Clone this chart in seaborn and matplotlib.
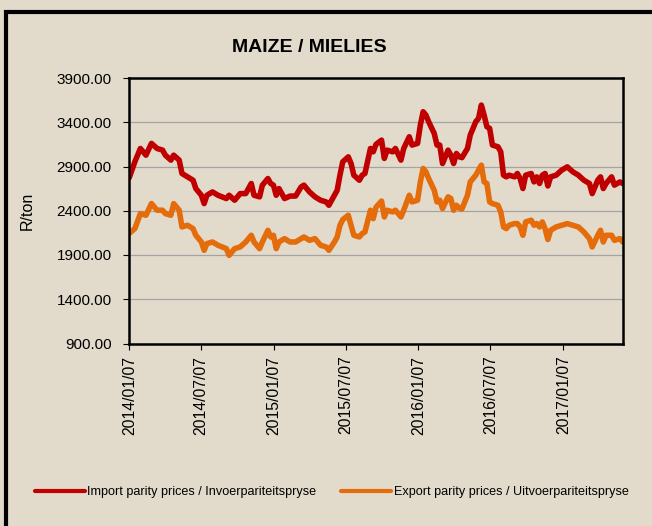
import numpy as np
import pandas as pd
import matplotlib
matplotlib.use("Agg")
import matplotlib.pyplot as plt
from matplotlib.patches import Rectangle
import seaborn as sns

# ---------------- data ----------------
start_date = "2014-01-07"
weeks = [0, 2, 4, 6, 8, 10, 12, 13, 15, 16, 18, 19, 21, 23, 24, 26, 27, 28, 30, 32,
         35, 36, 38, 40, 42, 44, 45, 47, 48, 50, 51, 52, 53, 54, 56, 58, 60, 62, 63, 65,
         67, 69, 71, 72, 74, 75, 76, 77, 79, 80, 81, 83, 84, 85, 87, 88, 89, 91, 92, 93,
         95, 96, 98, 99, 101, 102, 104, 105, 106, 107, 108, 110, 111, 112, 113, 115, 116, 117, 118, 119,
         120, 122, 123, 125, 126, 127, 128, 129, 130, 131, 133, 134, 135, 136, 137, 139, 140, 141, 142, 143,
         145, 146, 147, 148, 149, 150, 151, 152, 154, 156, 158, 160, 162, 164, 166, 167, 169, 170, 171, 172,
         174, 175, 177, 178]

import_parity = [2775, 2953, 3104, 3028, 3161, 3104, 3085, 3028, 2972, 3028, 2972, 2821, 2783, 2745, 2651, 2575, 2481, 2575, 2613, 2575,
                 2538, 2575, 2519, 2594, 2594, 2708, 2575, 2557, 2689, 2764, 2708, 2689, 2575, 2651, 2538, 2566, 2566, 2670, 2689, 2613,
                 2557, 2519, 2500, 2462, 2575, 2632, 2802, 2953, 3009, 2934, 2802, 2745, 2802, 2821, 3104, 3066, 3150, 3198, 2991, 3085,
                 3066, 3104, 2972, 3104, 3236, 3142, 3161, 3368, 3519, 3481, 3406, 3274, 3142, 3142, 2934, 3085, 3028, 2934, 3047, 3010,
                 3000, 3104, 3255, 3406, 3444, 3594, 3481, 3349, 3331, 3142, 3123, 3066, 2802, 2783, 2802, 2783, 2821, 2764, 2651, 2802,
                 2821, 2726, 2783, 2708, 2802, 2821, 2680, 2783, 2802, 2859, 2896, 2840, 2802, 2745, 2708, 2594, 2745, 2783, 2651, 2708,
                 2783, 2689, 2726, 2708]

export_parity = [2145, 2198, 2368, 2349, 2481, 2406, 2406, 2368, 2349, 2481, 2406, 2217, 2236, 2198, 2123, 2047, 1953, 2029, 2047, 2010,
                 1972, 1896, 1972, 1991, 2047, 2123, 2047, 1972, 2047, 2179, 2104, 2123, 1972, 2047, 2085, 2047, 2047, 2085, 2104, 2066,
                 2085, 2010, 1991, 1953, 2047, 2104, 2236, 2300, 2349, 2236, 2123, 2104, 2142, 2160, 2406, 2311, 2440, 2510, 2330, 2406,
                 2387, 2406, 2330, 2406, 2575, 2500, 2519, 2726, 2878, 2840, 2764, 2632, 2500, 2519, 2425, 2557, 2538, 2406, 2462, 2430,
                 2420, 2575, 2726, 2802, 2859, 2915, 2726, 2708, 2500, 2481, 2462, 2387, 2217, 2198, 2236, 2255, 2255, 2217, 2123, 2274,
                 2293, 2236, 2255, 2217, 2274, 2198, 2075, 2179, 2217, 2236, 2255, 2236, 2217, 2160, 2085, 1991, 2123, 2179, 2047, 2123,
                 2123, 2066, 2085, 2047]

series_names = ["Import parity prices / Invoerpariteitspryse",
                "Export parity prices / Uitvoerpariteitspryse"]
x_tick_labels = ["2014/01/07", "2014/07/07", "2015/01/07", "2015/07/07",
                 "2016/01/07", "2016/07/07", "2017/01/07"]
y_ticks = [900, 1400, 1900, 2400, 2900, 3400, 3900]
title = "MAIZE / MIELIES"
y_label = "R/ton"

# ---------------- styling ----------------
BG = "#e2dbcc"
RED = "#c00000"
ORANGE = "#e46c0a"

sns.set_theme(style="white")
plt.rcParams["font.family"] = ["Liberation Sans", "DejaVu Sans"]

dates = pd.Timestamp(start_date) + pd.to_timedelta(np.array(weeks) * 7, unit="D")
df = pd.DataFrame({"Date": dates,
                   series_names[0]: import_parity,
                   series_names[1]: export_parity})
long = df.melt(id_vars="Date", var_name="Series", value_name="Price")

W, H = 652, 526
fig = plt.figure(figsize=(W / 100, H / 100), dpi=100, facecolor=BG)
left, right, top, bottom = 129.3, 622.7, 78.0, 343.5
ax = fig.add_axes([left / W, 1 - bottom / H, (right - left) / W, (bottom - top) / H])
ax.set_facecolor(BG)

sns.lineplot(data=long, x="Date", y="Price", hue="Series", hue_order=series_names,
             palette=[RED, ORANGE], linewidth=4.0, ax=ax, legend=False, zorder=3)
for ln in ax.lines:
    ln.set_solid_joinstyle("round")
    ln.set_solid_capstyle("round")

ax.set_xlim(dates[0], dates[-1])
ax.set_ylim(900, 3900)
ax.set_yticks(y_ticks)
ax.set_yticklabels([f"{v:.2f}" for v in y_ticks], fontsize=11)
tick_dates = pd.to_datetime(x_tick_labels, format="%Y/%m/%d")
ax.set_xticks(tick_dates)
ax.set_xticklabels(x_tick_labels, rotation=90, fontsize=11.3)

ax.grid(axis="y", color="#a3a3a3", linewidth=0.9, zorder=1)
ax.grid(axis="x", visible=False)
ax.set_axisbelow(True)
for s in ax.spines.values():
    s.set_color("black")
    s.set_linewidth(1.8)
    s.set_zorder(5)
ax.tick_params(axis="y", which="major", direction="out", length=4.3, width=0.8,
               color="black", pad=8.5, left=True, labelcolor="black")
ax.tick_params(axis="x", which="major", direction="out", length=4.3, width=0.8,
               color="black", pad=4.5, bottom=True, labelcolor="black")

ax.set_xlabel("")
ax.set_ylabel(y_label, fontsize=11.5, color="black")
ax.yaxis.set_label_coords((35 - left) / (right - left), 0.5)

fig.text(309 / W, 1 - 48 / H, title, ha="center", va="center",
         fontsize=14, fontweight="bold", color="black")

handles = ax.lines[:2]
leg = fig.legend(handles, series_names, loc="center left",
                 bbox_to_anchor=(35 / W, 1 - 492 / H), ncol=2, frameon=False,
                 fontsize=9.1, handlelength=3.95, handletextpad=0.2,
                 columnspacing=1.95, borderpad=0, borderaxespad=0)
for h in leg.legend_handles:
    h.set_linewidth(3.0)
for t in leg.get_texts():
    t.set_color("black")

# outer black frame (cropped at right/bottom like the reference)
fig.patches.append(Rectangle((6 / W, -0.05), 1.2, 1 - 12 / H + 0.05,
                             transform=fig.transFigure, fill=False,
                             edgecolor="black", linewidth=3.0, zorder=10))

fig.savefig("out.png", dpi=100, facecolor=BG)
